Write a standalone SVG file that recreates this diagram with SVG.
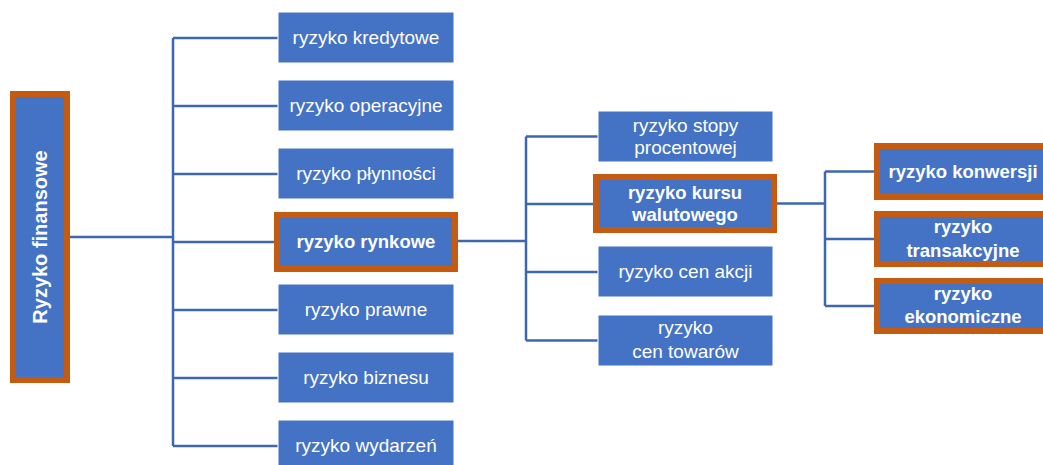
<svg xmlns="http://www.w3.org/2000/svg" width="1043" height="465" viewBox="0 0 1043 465">
  <style>
    .box { fill: #4472C4; stroke: #ffffff; stroke-width: 1; }
    .hl { fill: #4472C4; stroke: #C55A11; stroke-width: 6; }
    .t { font-family: "Liberation Sans", Arial, sans-serif; font-size: 19px; fill: #ffffff; text-anchor: middle; }
    .b { font-family: "Liberation Sans", Arial, sans-serif; font-size: 18.5px; font-weight: bold; fill: #ffffff; text-anchor: middle; }
    .c { fill: none; stroke: #3E67B1; stroke-width: 2.5; }
  </style>
  <rect width="1043" height="465" fill="#ffffff"/>
  <g id="connectors" class="c">
    <path d="M70 237 H173"/>
    <path d="M173 38 V446"/>
    <path d="M173 38 H278 M173 106 H278 M173 174 H278 M173 242 H274 M173 310 H278 M173 378 H278 M173 446 H278"/>
    <path d="M458 241 H526"/>
    <path d="M526 136.5 V340.5"/>
    <path d="M526 136.5 H598 M526 204 H593 M526 272 H598 M526 340.5 H598"/>
    <path d="M777 203.5 H825"/>
    <path d="M825 171.5 V306"/>
    <path d="M825 171.5 H874 M825 239 H874 M825 306 H874"/>
  </g>
  <g id="root">
    <rect class="hl" x="13" y="94" width="54" height="286"/>
    <text class="b" style="font-size:20px" transform="translate(47 237) rotate(-90)" x="0" y="0">Ryzyko finansowe</text>
  </g>
  <g id="kredytowe">
    <rect class="box" x="278" y="12" width="176" height="51"/>
    <text class="t" x="366" y="44">ryzyko kredytowe</text>
  </g>
  <g id="operacyjne">
    <rect class="box" x="278" y="80" width="176" height="51"/>
    <text class="t" x="366" y="112">ryzyko operacyjne</text>
  </g>
  <g id="plynnosci">
    <rect class="box" x="278" y="148" width="176" height="51"/>
    <text class="t" x="366" y="180">ryzyko płynności</text>
  </g>
  <g id="rynkowe">
    <rect class="hl" x="277" y="215" width="178" height="54"/>
    <text class="b" x="366" y="248">ryzyko rynkowe</text>
  </g>
  <g id="prawne">
    <rect class="box" x="278" y="284" width="176" height="51"/>
    <text class="t" x="366" y="316">ryzyko prawne</text>
  </g>
  <g id="biznesu">
    <rect class="box" x="278" y="352" width="176" height="51"/>
    <text class="t" x="366" y="384">ryzyko biznesu</text>
  </g>
  <g id="wydarzen">
    <rect class="box" x="278" y="420" width="176" height="51"/>
    <text class="t" x="366" y="452">ryzyko wydarzeń</text>
  </g>
  <g id="stopy">
    <rect class="box" x="598" y="111" width="175" height="51"/>
    <text class="t" x="685.5" y="132">ryzyko stopy</text>
    <text class="t" x="685.5" y="154">procentowej</text>
  </g>
  <g id="kursu">
    <rect class="hl" x="596" y="177" width="178" height="53"/>
    <text class="b" x="685" y="199">ryzyko kursu</text>
    <text class="b" x="685" y="221">walutowego</text>
  </g>
  <g id="akcji">
    <rect class="box" x="598" y="246" width="175" height="51"/>
    <text class="t" x="685.5" y="278">ryzyko cen akcji</text>
  </g>
  <g id="towarow">
    <rect class="box" x="598" y="315" width="175" height="51"/>
    <text class="t" x="685.5" y="334">ryzyko</text>
    <text class="t" x="685.5" y="358">cen towarów</text>
  </g>
  <g id="konwersji">
    <rect class="hl" x="877" y="146" width="172" height="51"/>
    <text class="b" x="963" y="178">ryzyko konwersji</text>
  </g>
  <g id="transakcyjne">
    <rect class="hl" x="877" y="214" width="172" height="50"/>
    <text class="b" x="963" y="233">ryzyko</text>
    <text class="b" x="963" y="257">transakcyjne</text>
  </g>
  <g id="ekonomiczne">
    <rect class="hl" x="877" y="281" width="172" height="50"/>
    <text class="b" x="963" y="300">ryzyko</text>
    <text class="b" x="963" y="323">ekonomiczne</text>
  </g>
</svg>
